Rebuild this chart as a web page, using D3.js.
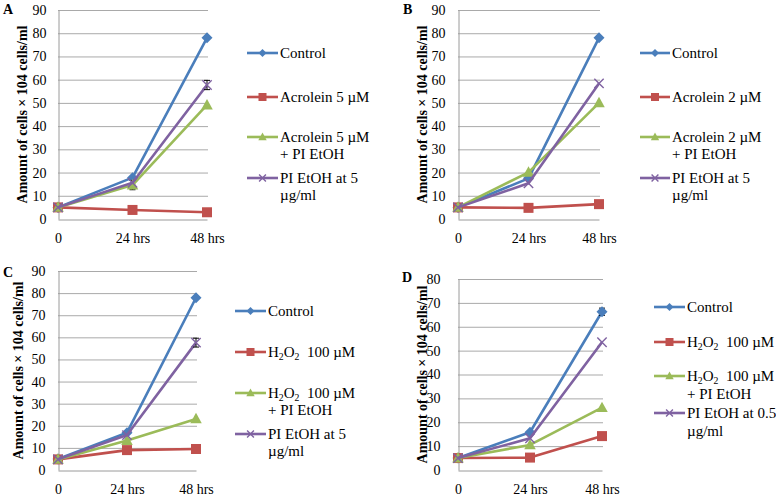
<!DOCTYPE html>
<html><head><meta charset="utf-8">
<script src="https://cdn.jsdelivr.net/npm/d3@7"></script>
<style>body{margin:0;background:#fff} svg{display:block}</style>
</head><body>
<svg id="c" width="776" height="495"></svg>
<script>
// ---------- DATA ----------
const timepoints = ["0", "24 hrs", "48 hrs"];

// Panel A
const aControl      = [5, 17.8, 78];
const aAcrolein     = [5, 3.9, 2.9];
const aAcroleinPI   = [5, 14.6, 49.1];
const aPI           = [5, 15.6, 57.7];
const aErrAcroleinPI = [0, 2, 0];
const aErrPI         = [0, 0, 2];
const aLabels = [["Control"], ["Acrolein 5 µM"], ["Acrolein 5 µM", "+ PI EtOH"], ["PI EtOH at 5", "µg/ml"]];

// Panel B
const bControl      = [5, 17.5, 78];
const bAcrolein     = [5, 4.8, 6.4];
const bAcroleinPI   = [5, 20.1, 50];
const bPI           = [5, 15.4, 58.4];
const bLabels = [["Control"], ["Acrolein 2 µM"], ["Acrolein 2 µM", "+ PI EtOH"], ["PI EtOH at 5", "µg/ml"]];

// Panel C
const cControl      = [5, 16.9, 77.9];
const cH2O2         = [4.8, 9.0, 9.5];
const cH2O2PI       = [4.8, 13.3, 23.1];
const cPI           = [4.8, 15.8, 57.6];
const cErrPI         = [0, 0, 2];
const cLabels = [["Control"], ["H_2O_2  100 µM"], ["H_2O_2  100 µM", "+ PI EtOH"], ["PI EtOH at 5", "µg/ml"]];

// Panel D
const dControl      = [5, 15.8, 66.3];
const dH2O2         = [5, 5.2, 14.2];
const dH2O2PI       = [5, 10.5, 26.1];
const dPI           = [5, 13.3, 53.5];
const dErrControl    = [0, 0, 1.5];
const dLabels = [["Control"], ["H_2O_2  100 µM"], ["H_2O_2  100 µM", "+ PI EtOH"], ["PI EtOH at 0.5", "µg/ml"]];

const yTitle = "Amount of cells × 104 cells/ml";
const zeros = [0, 0, 0];

// ---------- STYLE ----------
const colors = ["#4A7EBB", "#C0504D", "#9BBB59", "#7F62A1"];
const markers = ["diamond", "square", "triangle", "x"];
const serif = "'Liberation Serif', Tinos, 'Times New Roman', 'Nimbus Roman', 'DejaVu Serif', serif";

const panels = [
  {letter:"A", lx:3, ly:14, x0:58, x1:207, yTop:10, yBot:219, yMax:90, tickRight:46, titleX:22, xLabY:242,
   series:[aControl,aAcrolein,aAcroleinPI,aPI], errs:[zeros,zeros,aErrAcroleinPI,aErrPI], labels:aLabels,
   lg:{x0:247,x1:278,tx:280,rows:[53,97,137,178],gap:16.5}},
  {letter:"B", lx:403, ly:14, x0:458, x1:599, yTop:10, yBot:219, yMax:90, tickRight:445, titleX:422, xLabY:242,
   series:[bControl,bAcrolein,bAcroleinPI,bPI], errs:[zeros,zeros,zeros,zeros], labels:bLabels,
   lg:{x0:640,x1:670,tx:672,rows:[53,97,137,178],gap:16.5}},
  {letter:"C", lx:3, ly:277, x0:58, x1:196, yTop:271, yBot:470, yMax:90, tickRight:45, titleX:18, xLabY:493,
   series:[cControl,cH2O2,cH2O2PI,cPI], errs:[zeros,zeros,zeros,cErrPI], labels:cLabels,
   lg:{x0:235,x1:266,tx:268,rows:[311,352,393,434],gap:17}},
  {letter:"D", lx:402, ly:282, x0:458, x1:602, yTop:279, yBot:470, yMax:80, tickRight:440, titleX:422, xLabY:493,
   series:[dControl,dH2O2,dH2O2PI,dPI], errs:[dErrControl,zeros,zeros,zeros], labels:dLabels,
   lg:{x0:654,x1:685,tx:687,rows:[307,342,376,413],gap:18}}
];

const svg = d3.select("#c");

const probe = svg.append("text").style("font-family", serif).attr("font-size", 15).text("Control");
const probeW = probe.node().getComputedTextLength();
probe.remove();
const fscale = Math.min(1, 46 / probeW);
const fsTick = 14 * fscale, fsLeg = 15 * fscale, fsTitle = 14 * fscale;

function drawMarker(g, type, cx, cy, color, s) {
  if (type === "diamond") {
    g.append("path").attr("d", `M${cx},${cy-s} L${cx+s},${cy} L${cx},${cy+s} L${cx-s},${cy} Z`).attr("fill", color);
  } else if (type === "square") {
    g.append("rect").attr("x", cx-s).attr("y", cy-s).attr("width", 2*s).attr("height", 2*s).attr("fill", color);
  } else if (type === "triangle") {
    g.append("path").attr("d", `M${cx},${cy-s*1.1} L${cx+s*1.05},${cy+s*0.8} L${cx-s*1.05},${cy+s*0.8} Z`).attr("fill", color);
  } else {
    const r = s*0.85;
    g.append("path").attr("d", `M${cx-r},${cy-r} L${cx+r},${cy+r} M${cx-r},${cy+r} L${cx+r},${cy-r}`)
      .attr("stroke", color).attr("stroke-width", 1.4).attr("fill", "none");
  }
}

function addLabelText(t, str) {
  const parts = str.split(/(_\d)/).filter(s => s.length);
  let pendingDy = 0;
  parts.forEach(p => {
    if (p.startsWith("_")) {
      t.append("tspan").attr("font-size", fsLeg * 0.65).attr("dy", 3 + pendingDy).text(p.slice(1));
      pendingDy = -3;
    } else {
      t.append("tspan").attr("dy", pendingDy).style("white-space", "pre").text(p);
      pendingDy = 0;
    }
  });
}

panels.forEach(p => {
  const g = svg.append("g");
  const x = d3.scalePoint().domain(timepoints).range([p.x0, p.x1]);
  const y = d3.scaleLinear().domain([0, p.yMax]).range([p.yBot, p.yTop]);
  const ticks = d3.range(0, p.yMax + 1, 10);

  g.selectAll("line.grid").data(ticks.filter(t => t > 0)).join("line")
    .attr("x1", p.x0).attr("x2", p.x1 + 1)
    .attr("y1", d => y(d) + 0.5).attr("y2", d => y(d) + 0.5)
    .attr("stroke", "#a9a9a9").attr("stroke-width", 1);

  const ya = g.append("g").attr("transform", `translate(${p.x0 + 0.5},0)`)
    .call(d3.axisLeft(y).tickValues(ticks).tickSize(0).tickPadding(p.x0 - p.tickRight).tickFormat(d3.format("d")));
  ya.attr("font-family", null).attr("font-size", null);
  ya.select(".domain").attr("stroke", "#9a9a9a");
  ya.selectAll("text").style("font-family", serif).style("font-size", fsTick + "px").attr("fill", "#000");

  const xa = g.append("g").attr("transform", `translate(0,${p.yBot + 0.5})`)
    .call(d3.axisBottom(x).tickSize(0).tickPadding(0));
  xa.attr("font-family", null).attr("font-size", null);
  xa.select(".domain").attr("stroke", "#9a9a9a");
  xa.selectAll("text").style("font-family", serif).style("font-size", fsTick + "px").attr("fill", "#000")
    .attr("dy", null).attr("y", p.xLabY - p.yBot);

  g.append("text").attr("transform", `translate(${p.titleX},${(p.yTop + p.yBot) / 2}) rotate(-90)`)
    .attr("text-anchor", "middle").attr("dominant-baseline", "central")
    .style("font-family", serif).style("font-size", fsTitle + "px").attr("font-weight", "bold").text(yTitle);

  g.append("text").attr("x", p.lx).attr("y", p.ly).style("font-family", serif).style("font-size", "14px")
    .attr("font-weight", "bold").text(p.letter);

  const line = d3.line().x((d, i) => x(timepoints[i])).y(d => y(d));
  p.series.forEach((vals, si) => {
    const sg = g.append("g");
    sg.append("path").attr("d", line(vals)).attr("fill", "none").attr("stroke", colors[si])
      .attr("stroke-width", 2.6).attr("stroke-linejoin", "round");
    p.errs[si].forEach((e, i) => {
      if (!e) return;
      const cx = x(timepoints[i]);
      const eg = sg.append("g").attr("stroke", "#000").attr("stroke-width", 1);
      eg.append("line").attr("x1", cx).attr("x2", cx).attr("y1", y(vals[i] - e)).attr("y2", y(vals[i] + e));
      eg.append("line").attr("x1", cx - 3).attr("x2", cx + 3).attr("y1", y(vals[i] - e)).attr("y2", y(vals[i] - e));
      eg.append("line").attr("x1", cx - 3).attr("x2", cx + 3).attr("y1", y(vals[i] + e)).attr("y2", y(vals[i] + e));
    });
    vals.forEach((v, i) => drawMarker(sg, markers[si], x(timepoints[i]), y(v), colors[si], markers[si] === "square" ? 5 : 5.5));
  });

  p.labels.forEach((lines, si) => {
    const ry = p.lg.rows[si];
    const lgG = g.append("g");
    lgG.append("line").attr("x1", p.lg.x0).attr("x2", p.lg.x1).attr("y1", ry).attr("y2", ry)
      .attr("stroke", colors[si]).attr("stroke-width", 2.6);
    drawMarker(lgG, markers[si], (p.lg.x0 + p.lg.x1) / 2, ry, colors[si], 4);
    lines.forEach((ln, li) => {
      const t = lgG.append("text").attr("x", p.lg.tx).attr("y", ry + 5 + li * p.lg.gap)
        .style("font-family", serif).style("font-size", fsLeg + "px").attr("fill", "#000");
      addLabelText(t, ln);
    });
  });
});
</script>
</body></html>
